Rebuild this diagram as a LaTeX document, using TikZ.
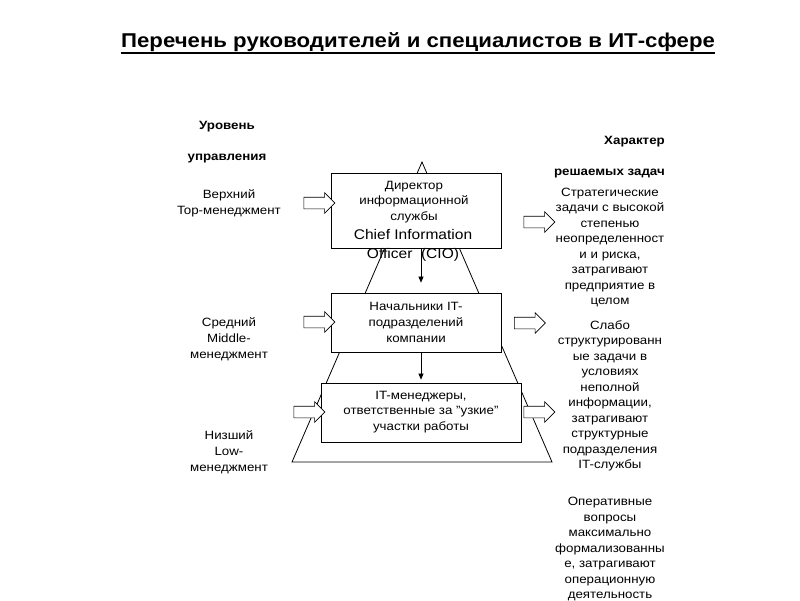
\documentclass[tikz,border=0pt]{standalone}
\usepackage{fontspec}
\setmainfont{Liberation Sans}[FakeStretch=1.11]
\usetikzlibrary{shapes.arrows,arrows.meta}
\begin{document}
\begin{tikzpicture}[x=1pt,y=-1pt,
 txt/.style={font=\fontsize{12}{15.5}\selectfont, align=center, inner sep=0pt},
 lbl/.style={font=\fontsize{12}{16}\selectfont, align=center, inner sep=0pt},
 hdr/.style={font=\bfseries\fontsize{12}{31}\selectfont, inner sep=0pt},
 box/.style={draw, fill=white, line width=0.8pt, inner sep=0pt},
 barrow/.style={single arrow, draw, fill=white, minimum height=31pt, inner xsep=0pt, inner ysep=5.5pt, single arrow head extend=4.5pt, line width=0.6pt},
 conn/.style={-{Triangle[length=6pt,width=5pt]}, line width=0.6pt}]
\path[use as bounding box] (0,0) rectangle (800,600);
% title
\node[font=\bfseries\fontsize{20}{24}\selectfont, inner sep=0pt] (title) at (418,42) {Перечень руководителей и специалистов в ИТ-сфере};
\draw[line width=1.6pt] ([yshift=-1.2pt]title.south west) -- ([yshift=-1.2pt]title.south east);
% pyramid
\coordinate (apex) at (422,162);
\coordinate (bl) at (292,462);
\coordinate (br) at (552,462);
\draw[line width=0.8pt] (apex) -- (bl) -- (br) -- cycle;
% boxes
\node[box, minimum width=170pt, minimum height=75pt] (b1) at (416,210.5) {};
\node[box, minimum width=170pt, minimum height=59pt] (b2) at (416,322.5) {};
\node[box, minimum width=200pt, minimum height=59pt] (b3) at (421,412.5) {};
\draw[conn] (b1.south -| b3.center) -- ([yshift=10pt]b2.north -| b3.center);
\draw[conn] (b2.south -| b3.center) -- ([yshift=3pt]b3.north);
% box texts
\node[txt] (t1) at (414,202) {Директор\\информационной\\службы};
\node[font=\fontsize{14}{19}\selectfont, align=center, inner sep=0pt] (t1e) at (413,245) {Chief Information\\Officer\ \ (CIO)};
\node[lbl] (t2) at (416,322) {Начальники IT-\\подразделений\\компании};
\node[txt] (t3) at (421,412) {IT-менеджеры,\\ответственные за "узкие"\\участки работы};
% block arrows
\node[barrow] (a1l) at (316.5,203) {};
\node[barrow] (a1r) at (536.5,222) {};
\node[barrow] (a2l) at (316.5,322) {};
\node[barrow] (a2r) at (527,323) {};
\node[barrow] (a3l) at (306.5,412) {};
\node[barrow] (a3r) at (536.5,412) {};
% left labels
\node[hdr, align=center] (h1) at (227,142) {Уровень\\управления};
\node[lbl] (l1) at (229,203) {Верхний\\Top-менеджмент};
\node[lbl] (l2) at (229,339) {Средний\\Middle-\\менеджмент};
\node[lbl] (l3) at (229,452) {Низший\\Low-\\менеджмент};
% right labels
\node[hdr, align=right, anchor=east] (h2) at (665,157) {Характер\\решаемых задач};
\node[txt] (r1) at (610,247.5) {Стратегические\\задачи с высокой\\степенью\\неопределенност\\и и риска,\\затрагивают\\предприятие в\\целом};
\node[txt] (r2) at (610,396) {Слабо\\структурированн\\ые задачи в\\условиях\\неполной\\информации,\\затрагивают\\структурные\\подразделения\\IT-службы};
\node[txt] (r3) at (610,549) {Оперативные\\вопросы\\максимально\\формализованны\\е, затрагивают\\операционную\\деятельность};
\end{tikzpicture}
\end{document}
